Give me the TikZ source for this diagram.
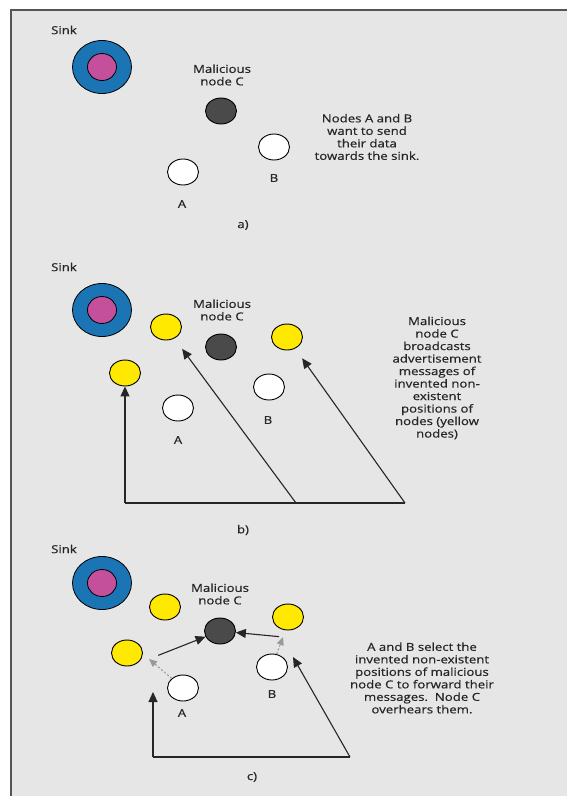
\documentclass[tikz,border=0pt]{standalone}
\usepackage{fontspec}
\setmainfont{Open Sans}[FakeStretch=1.2, FakeBold=0.6]
\usetikzlibrary{arrows.meta,shapes.geometric}
\definecolor{paper}{HTML}{E6E6E6}
\definecolor{rim}{HTML}{555555}
\definecolor{sinkblue}{HTML}{1B75B4}
\definecolor{sinkpink}{HTML}{C4509C}
\definecolor{evil}{HTML}{4A4A4A}
\definecolor{fake}{HTML}{FFE900}
\tikzset{
    mote/.style={ellipse, draw=black, line width=0.9pt, minimum width=31pt, minimum height=26pt, inner sep=0pt}, % sensor node
    honest/.style={mote, fill=white},
    ghost/.style={mote, fill=fake}, % invented position
    bad/.style={mote, fill=evil},
    txt/.style={font=\fontsize{11}{12.5}\selectfont, text=black!85, align=center, inner sep=0pt},
    ray/.style={draw=black!85, line width=1.1pt, -{Triangle[length=10pt,width=9pt]}},
    hint/.style={draw=black!40, line width=1.1pt, dash pattern=on 2pt off 2pt, -{Triangle[length=8pt,width=7pt]}}
}
\begin{document}
\begin{tikzpicture}[x=1pt, y=-1pt]
    \useasboundingbox (0,0) rectangle (567,796);
    \fill[paper] (11,10) rectangle (567,796);
    \draw[rim, line width=1.6pt] (11,796) -- (11,10) -- (567,10);

    % the sink, once per panel
    \foreach \p/\sy/\ly in {a/67/30, b/310/267, c/583/549} {
        \node[ellipse, draw=black, fill=sinkblue, line width=0.8pt, minimum width=59pt, minimum height=53pt] (sink\p) at (102,\sy) {};
        \node[ellipse, draw=black, fill=sinkpink, line width=0.8pt, minimum width=29pt, minimum height=27pt] at (102,\sy) {};
        \node[txt] (sinklbl\p) at (64,\ly) {Sink};
    }

    % a)
    \node[txt] (mallbla) at (222,75) {Malicious\\node C};
    \node[bad] (Ca) at (221,111) {};
    \node[honest] (Ba) at (274,147) {};
    \node[honest] (Aa) at (183,172) {};
    \node[txt] (Blbla) at (274,178) {B};
    \node[txt] (Albla) at (182,204) {A};
    \node[txt] (capa) at (243,225) {a)};
    \node[txt] (notea) at (367,137) {Nodes A and B\\want to send\\their data\\towards the sink.};

    % b)
    \node[txt] (mallblb) at (222,310) {Malicious\\node C};
    \node[bad] (Cb) at (221,347) {};
    \node[ghost] (Yb1) at (166,327) {};
    \node[ghost] (Yb2) at (287,337) {};
    \node[ghost] (Yb3) at (125,373) {};
    \node[honest] (Bb) at (269,387) {};
    \node[honest] (Ab) at (178,408) {};
    \node[txt] (Blblb) at (268,420) {B};
    \node[txt] (Alblb) at (178,440) {A};
    \node[txt] (capb) at (243,530) {b)};
    \node[txt] (noteb) at (437,378) {Malicious\\node C\\broadcasts\\advertisement\\messages of\\invented non-\\existent\\positions of\\nodes (yellow\\nodes)};
    \coordinate (b1) at (125,503);
    \coordinate (b2) at (296,503);
    \coordinate (b3) at (405,503);
    \draw[ray] (b1) -- (Yb3);
    \draw[draw=black!85, line width=1.1pt] (b1) -- (b3);
    \draw[ray, shorten >=13pt] (b2) -- (Yb1);
    \draw[ray, shorten >=12pt] (b3) -- (Yb2);

    % c)
    \node[txt] (mallblc) at (220,594) {Malicious\\node C};
    \node[bad] (Cc) at (220,631) {};
    \node[ghost] (Yc1) at (165,607) {};
    \node[ghost] (Yc2) at (288,617) {};
    \node[ghost] (Yc3) at (127,653) {};
    \node[honest] (Bc) at (272,667) {};
    \node[honest] (Ac) at (183,688) {};
    \node[txt] (Blblc) at (272,694) {B};
    \node[txt] (Alblc) at (182,713) {A};
    \node[txt] (capc) at (252,777) {c)};
    \node[txt] (notec) at (422,678) {A and B select the\\invented non-existent\\positions of malicious\\node C to forward their\\messages.\ \ Node C\\overhears them.};
    \coordinate (ta) at (149,659);
    \coordinate (tb) at (283,637);
    \coordinate (c0) at (153,692);
    \coordinate (c1) at (153,757);
    \coordinate (c2) at (350,757);
    \coordinate (c3) at (293,657);
    \draw[hint] (Ac) -- (ta);
    \draw[hint] (Bc.70) -- (tb);
    \draw[ray, shorten <=10pt] (ta) -- (Cc);
    \draw[ray, shorten <=4pt] (tb) -- (Cc);
    \draw[ray] (c1) -- (c0);
    \draw[draw=black!85, line width=1.1pt] (c1) -- (c2);
    \draw[ray] (c2) -- (c3);
\end{tikzpicture}
\end{document}
